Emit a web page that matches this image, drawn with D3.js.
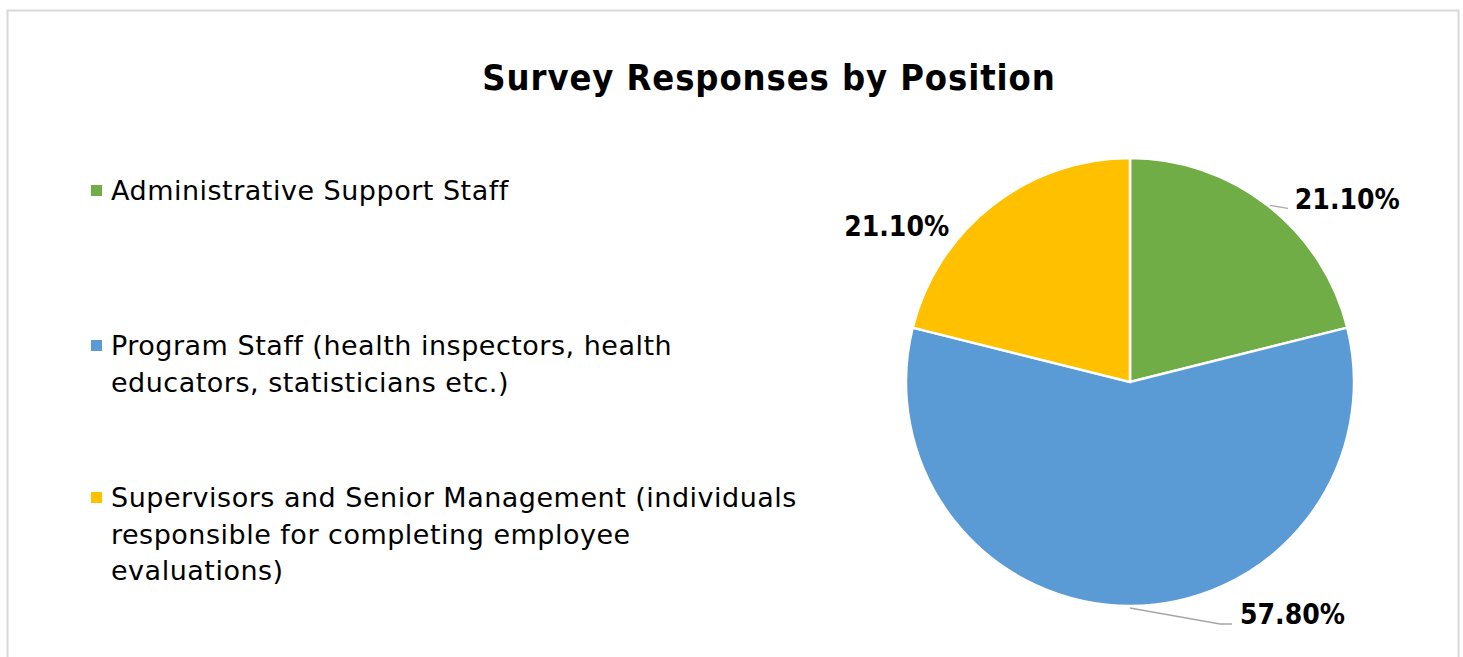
<!DOCTYPE html>
<html>
<head>
<meta charset="utf-8">
<script src="https://cdn.jsdelivr.net/npm/d3@7"></script>
<style>
  body { margin: 0; background: #fff; }
  text { font-family: "DejaVu Sans Condensed", "DejaVu Sans", sans-serif; }
  .legend text { font-family: "DejaVu Sans", sans-serif; }
</style>
</head>
<body>
<script>
// chart data
var categories = [
    ['Administrative Support Staff'],
    ['Program Staff (health inspectors, health', 'educators, statisticians etc.)'],
    ['Supervisors and Senior Management (individuals', 'responsible for completing employee', 'evaluations)']
]
var values = [21.1, 57.8, 21.1]
var labels = ['21.10%', '57.80%', '21.10%']
var colors = ['#70ad47', '#5b9bd5', '#ffc000']

var width = 1463, height = 657

var svg = d3.select('body').append('svg')
    .attr('width', width)
    .attr('height', height)

// outer chart border
svg.append('rect')
    .attr('x', 7.5).attr('y', 10.5)
    .attr('width', 1451).attr('height', 700)
    .attr('fill', '#fff')
    .attr('stroke', '#d9d9d9')
    .attr('stroke-width', 2)

// title
svg.append('text')
    .attr('x', 769).attr('y', 90)
    .attr('text-anchor', 'middle')
    .attr('font-size', '36px')
    .attr('font-weight', 'bold')
    .attr('letter-spacing', '0.9px')
    .attr('fill', '#000')
    .text('Survey Responses by Position')

// legend
var legendY = [200, 355, 507]
var lineH = 36.5
var legend = svg.selectAll('.legend')
    .data(categories)
    .enter().append('g')
    .attr('class', 'legend')
    .attr('transform', function(d, i) { return 'translate(91,' + legendY[i] + ')' })

legend.append('rect')
    .attr('x', 0).attr('y', -15)
    .attr('width', 11).attr('height', 11)
    .attr('fill', function(d, i) { return colors[i] })

legend.append('text')
    .attr('x', 20)
    .attr('font-size', '27px')
    .attr('letter-spacing', '0.5px')
    .attr('fill', '#000')
    .selectAll('tspan')
    .data(function(d) { return d })
    .enter().append('tspan')
    .attr('x', 20)
    .attr('y', function(d, j) { return j * lineH })
    .text(function(d) { return d })

// pie
var cx = 1130, cy = 382, r = 224
var pie = d3.pie().sort(null).value(function(d) { return d })
var arcs = pie(values)
var arc = d3.arc().innerRadius(0).outerRadius(r)
var edge = d3.arc().innerRadius(r).outerRadius(r)

var g = svg.append('g').attr('transform', 'translate(' + cx + ',' + cy + ')')

g.selectAll('.slice')
    .data(arcs)
    .enter().append('path')
    .attr('class', 'slice')
    .attr('d', arc)
    .attr('fill', function(d, i) { return colors[i] })
    .attr('stroke', '#fff')
    .attr('stroke-width', 2.5)

// label placement relative to the slice edge point: [dx, dy, anchor, leader]
var labelPos = [
    [27, 4, 'start', [[2, 0], [20, 3]]],
    [110, 18, 'start', [[0, 2], [90, 18], [102, 18]]],
    [-43, 31, 'end', null]
]

arcs.forEach(function(d, i) {
    var p = edge.centroid(d)
    var lp = labelPos[i]
    if (lp[3]) {
        var pts = lp[3].map(function(o) { return [p[0] + o[0], p[1] + o[1]] })
        g.append('path')
            .attr('d', d3.line()(pts))
            .attr('fill', 'none')
            .attr('stroke', '#a6a6a6')
            .attr('stroke-width', 1.3)
    }
    g.append('text')
        .attr('x', p[0] + lp[0])
        .attr('y', p[1] + lp[1])
        .attr('text-anchor', lp[2])
        .attr('font-size', '28px')
        .attr('font-weight', 'bold')
        .attr('fill', '#000')
        .text(labels[i])
})
</script>
</body>
</html>
